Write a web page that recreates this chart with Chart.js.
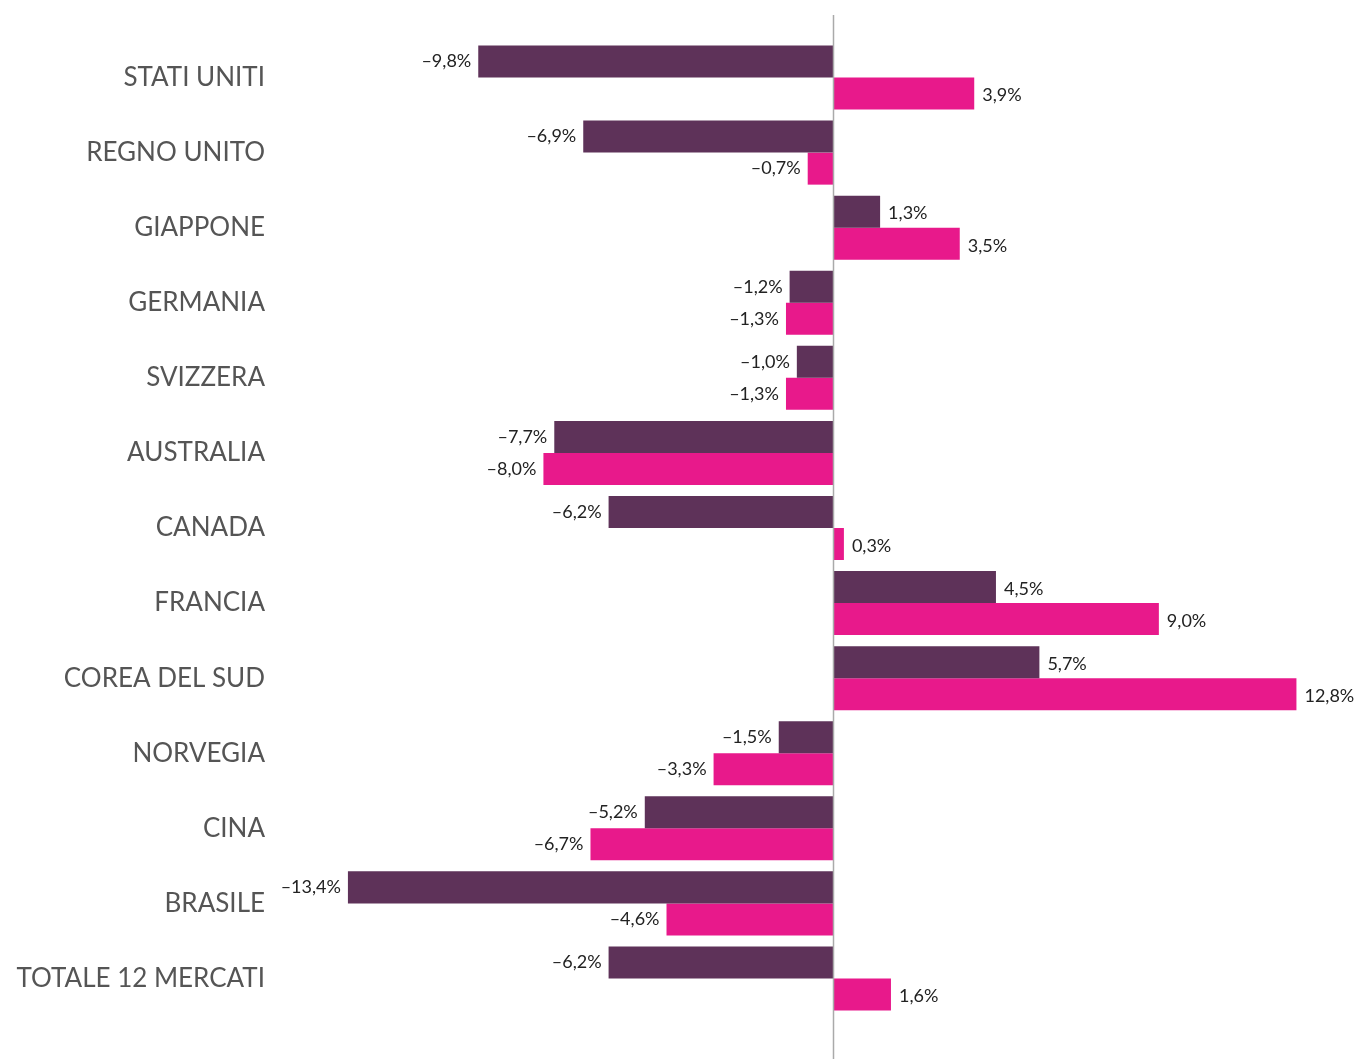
<!DOCTYPE html>
<html>
<head>
<meta charset="utf-8">
<script src="https://cdn.jsdelivr.net/npm/chart.js@4.4.1/dist/chart.umd.min.js"></script>
<style>
  html, body { margin: 0; padding: 0; background: #fff; }
  #wrap { width: 1354px; height: 1059px; position: relative; }
</style>
</head>
<body>
<div id="wrap"><canvas id="chartCanvas"></canvas></div>
<script>
// Dati
var categorie = ["STATI UNITI", "REGNO UNITO", "GIAPPONE", "GERMANIA", "SVIZZERA", "AUSTRALIA", "CANADA",
    "FRANCIA", "COREA DEL SUD", "NORVEGIA", "CINA", "BRASILE", "TOTALE 12 MERCATI"];
var serieScura = [-9.8, -6.9, 1.3, -1.2, -1.0, -7.7, -6.2, 4.5, 5.7, -1.5, -5.2, -13.4, -6.2];
var serieRosa = [3.9, -0.7, 3.5, -1.3, -1.3, -8.0, 0.3, 9.0, 12.8, -3.3, -6.7, -4.6, 1.6];

function formatta(v) {
    var s = Math.abs(v).toFixed(1).replace(".", ",") + "%";
    return v < 0 ? "–" + s : s;
}

// etichette dei valori accanto alle barre
const etichettePlugin = {
    id: "etichette",
    afterDatasetsDraw(chart) {
        const ctx = chart.ctx;
        ctx.save();
        ctx.font = "18px Lato";
        ctx.fillStyle = "#222";
        ctx.textBaseline = "middle";
        chart.data.datasets.forEach((ds, i) => {
            chart.getDatasetMeta(i).data.forEach((bar, j) => {
                var v = ds.data[j];
                if (v < 0) {
                    ctx.textAlign = "right";
                    ctx.fillText(formatta(v), bar.x - 7, bar.y);
                } else {
                    ctx.textAlign = "left";
                    ctx.fillText(formatta(v), bar.x + 8, bar.y + 2);
                }
            });
        });
        ctx.restore();
    }
};

// linea dello zero
const zeroPlugin = {
    id: "zero",
    afterDatasetsDraw(chart) {
        const ctx = chart.ctx;
        const x = Math.round(chart.scales.x.getPixelForValue(0)) + 0.5;
        ctx.save();
        ctx.strokeStyle = "#aaaaaa";
        ctx.lineWidth = 1.5;
        ctx.beginPath();
        ctx.moveTo(x, 15);
        ctx.lineTo(x, 1059);
        ctx.stroke();
        ctx.restore();
    }
};

const ctx = document.getElementById("chartCanvas").getContext("2d");
let chart = new Chart(ctx, {
    type: "bar",
    data: {
        labels: categorie,
        datasets: [{
            data: serieScura,
            backgroundColor: "#5e3259"
        }, {
            data: serieRosa,
            backgroundColor: "#e8198b"
        }]
    },
    options: {
        indexAxis: "y",
        responsive: true,
        maintainAspectRatio: false,
        animation: false,
        categoryPercentage: 0.853,
        barPercentage: 1,
        layout: {
            padding: { top: 40, bottom: 43, left: 0, right: 0 }
        },
        plugins: {
            legend: { display: false },
            tooltip: { enabled: false }
        },
        scales: {
            x: {
                display: false,
                min: -15.0,
                max: 14.39
            },
            y: {
                grid: { display: false },
                border: { display: false },
                ticks: {
                    color: "#555",
                    padding: 17,
                    font: { family: "Lato", size: 26 }
                },
                afterFit(scale) {
                    scale.width = 290;
                }
            }
        }
    },
    plugins: [etichettePlugin, zeroPlugin]
});
</script>
</body>
</html>
